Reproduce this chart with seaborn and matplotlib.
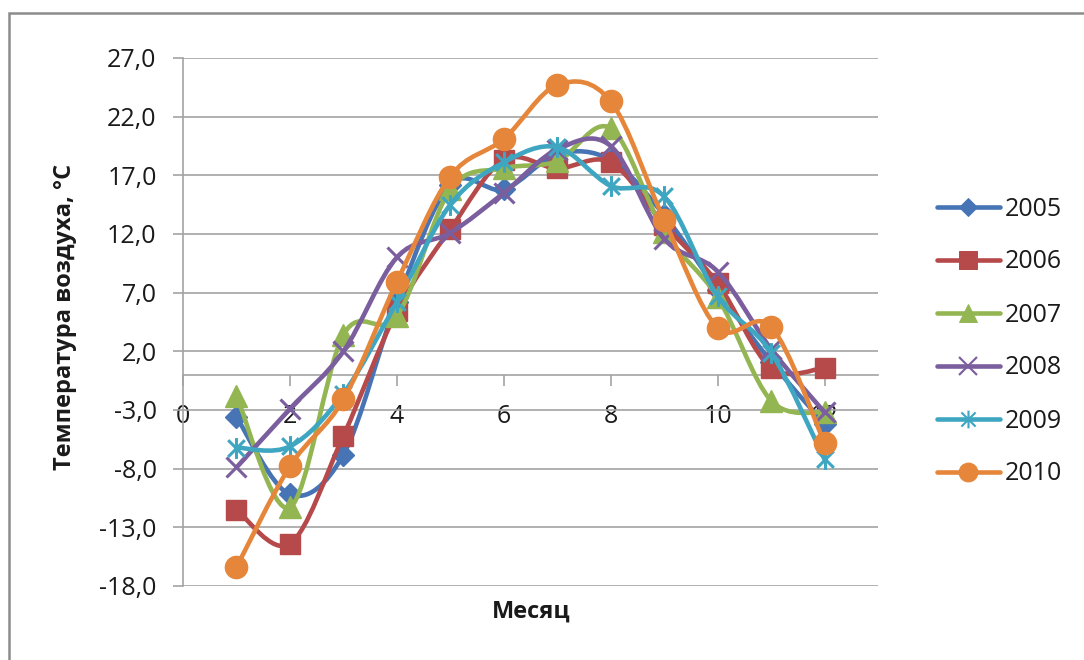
import numpy as np
import pandas as pd
import matplotlib
matplotlib.use("Agg")
import matplotlib.pyplot as plt
from matplotlib.path import Path
from matplotlib.patches import PathPatch, Rectangle
from matplotlib.lines import Line2D
from matplotlib.ticker import FuncFormatter, FixedLocator
import seaborn as sns

# Monthly mean air temperature, °C
months = list(range(1, 13))
years = ["2005", "2006", "2007", "2008", "2009", "2010"]
t2005 = [-3.6, -10.2, -6.8, 6.2, 16.2, 15.8, 18.8, 18.3, 13.6, 7.2, 1.1, -4.2]
t2006 = [-11.5, -14.4, -5.2, 5.4, 12.4, 18.3, 17.6, 18.1, 12.8, 7.8, 0.6, 0.6]
t2007 = [-1.8, -11.3, 3.4, 5.0, 15.8, 17.6, 18.2, 21.0, 12.2, 6.6, -2.2, -3.2]
t2008 = [-7.9, -2.9, 2.0, 10.0, 12.1, 15.5, 19.2, 19.5, 11.6, 8.8, 2.2, -3.2]
t2009 = [-6.2, -6.1, -1.6, 6.2, 14.5, 18.1, 19.4, 16.1, 15.2, 6.7, 1.9, -7.2]
t2010 = [-16.4, -7.8, -2.1, 7.9, 16.9, 20.1, 24.7, 23.3, 13.2, 4.0, 4.1, -5.8]
series = [t2005, t2006, t2007, t2008, t2009, t2010]

y_ticks = [-18, -13, -8, -3, 2, 7, 12, 17, 22, 27]
x_ticks = [0, 2, 4, 6, 8, 10, 12]

colors = ["#4674B4", "#B6494A", "#93B653", "#7A5E9E", "#3FA6C2", "#E5863A"]

# asterisk marker: a cross plus a vertical stroke
star = Path([(-1, -1), (1, 1), (-1, 1), (1, -1), (0, -1.25), (0, 1.25)],
            [Path.MOVETO, Path.LINETO, Path.MOVETO, Path.LINETO, Path.MOVETO, Path.LINETO])
markers = ["D", "s", "^", "x", star, "o"]
msizes = [11, 15, 16, 15, 15, 16]
mews = [1, 1, 1, 2.2, 2.2, 1]

sns.set_style("white")
plt.rcParams["font.family"] = ["Open Sans", "DejaVu Sans"]

FS = 18
grid_c = "#A3A3A3"
text_c = "#1A1A1A"
LW = 3.3

fig = plt.figure(figsize=(10.84, 6.60), dpi=100)
ax = fig.add_axes([183 / 1084, 74 / 660, 695 / 1084, 528 / 660])


def smooth_path(xs, ys):
    """Bezier path through the points with neighbour-based control handles."""
    pts = np.column_stack([xs, ys]).astype(float)
    n = len(pts)
    verts = [pts[0]]
    codes = [Path.MOVETO]
    for i in range(n - 1):
        p0 = pts[max(i - 1, 0)]
        p1 = pts[i]
        p2 = pts[i + 1]
        p3 = pts[min(i + 2, n - 1)]
        verts += [p1 + (p2 - p0) / 6.0, p2 - (p3 - p1) / 6.0, p2]
        codes += [Path.CURVE4] * 3
    return Path(verts, codes)


handles = []
for i, (yr, vals) in enumerate(zip(years, series)):
    c = colors[i]
    ax.add_patch(PathPatch(smooth_path(months, vals), facecolor="none",
                           edgecolor=c, lw=LW, capstyle="round",
                           joinstyle="round", zorder=3 + 2 * i))
    df = pd.DataFrame({"month": months, "temp": vals})
    sns.lineplot(data=df, x="month", y="temp", ax=ax, color=c,
                 marker=markers[i], markersize=msizes[i], linestyle="none",
                 markeredgecolor=c, markerfacecolor=c,
                 markeredgewidth=mews[i], zorder=4 + 2 * i)
    handles.append(Line2D([], [], color=c, lw=LW, solid_capstyle="round",
                          marker=markers[i], markersize=msizes[i] * 0.85,
                          markeredgecolor=c, markerfacecolor=c,
                          markeredgewidth=mews[i] * 0.7, label=yr))

ax.set_xlim(0, 13)
ax.set_ylim(-18, 27)

ax.yaxis.set_major_locator(FixedLocator(y_ticks))
ax.xaxis.set_major_locator(FixedLocator(x_ticks))
ax.yaxis.set_major_formatter(FuncFormatter(lambda v, p: f"{v:.1f}".replace(".", ",")))
ax.xaxis.set_major_formatter(FuncFormatter(lambda v, p: f"{v:.0f}"))

ax.grid(axis="y", color=grid_c, lw=1.2, zorder=0)
ax.grid(axis="x", visible=False)
ax.set_axisbelow(True)

for side in ["top", "right"]:
    ax.spines[side].set_visible(False)
ax.spines["left"].set_color(grid_c)
ax.spines["left"].set_linewidth(1.2)
ax.spines["bottom"].set_position(("data", 0))
ax.spines["bottom"].set_color(grid_c)
ax.spines["bottom"].set_linewidth(1.2)

ax.tick_params(axis="y", direction="out", length=7, width=1.2, color=grid_c,
               labelsize=FS, labelcolor=text_c, pad=12)
ax.tick_params(axis="x", direction="out", length=8, width=1.2, color=grid_c,
               labelsize=FS, labelcolor=text_c, pad=13)
ax.tick_params(axis="both", left=True, bottom=True)

ax.set_xlabel("Месяц", fontsize=FS - 1, fontweight="bold", color=text_c, va="center")
ax.set_ylabel("Температура воздуха, °С", fontsize=FS - 1, fontweight="bold",
              color=text_c, va="center")
ax.xaxis.set_label_coords(0.501, -0.049)
ax.yaxis.set_label_coords(-0.170, 0.509)

leg = fig.legend(handles=handles, loc="center left",
                 bbox_to_anchor=(937 / 1084, 1 - 341.5 / 660),
                 frameon=False, fontsize=FS, handlelength=2.5,
                 handletextpad=0.2, labelspacing=1.12, borderpad=0,
                 borderaxespad=0)
for t in leg.get_texts():
    t.set_color(text_c)

# chart area frame
fig.patches.append(Rectangle((9 / 1084, -0.2), 1.2, 0.2 + 647 / 660,
                             transform=fig.transFigure, fill=False,
                             edgecolor="#8C8C8C", lw=1.8, zorder=0))

fig.savefig("out.png", dpi=100)
